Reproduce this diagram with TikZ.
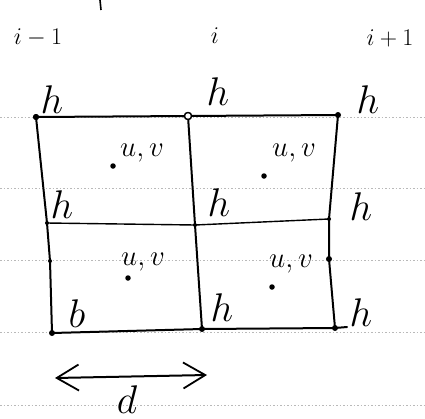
\RequirePackage{fix-cm}
\documentclass[tikz,border=0pt]{standalone}
\usetikzlibrary{arrows.meta}
\begin{document}
\begin{tikzpicture}[x=1pt,y=-1pt,
  ruled/.style={gray!55, line width=0.6pt, dash pattern=on 1.5pt off 2pt},
  gridline/.style={line width=2pt, line cap=round, line join=round},
  thinline/.style={line width=1.4pt, line cap=round, line join=round},
  dot/.style={circle, fill, inner sep=0pt, minimum size=6pt},
  odot/.style={circle, draw, fill=white, line width=1.3pt, inner sep=0pt, minimum size=7pt},
  sdot/.style={circle, fill, inner sep=0pt, minimum size=4pt},
  hlab/.style={font=\fontsize{40}{40}\selectfont, inner sep=0pt},
  uvlab/.style={font=\fontsize{29}{29}\selectfont, inner sep=0pt},
  ilab/.style={font=\fontsize{24}{24}\selectfont, inner sep=0pt}
]
\useasboundingbox (0,0) rectangle (425,418);
% notebook ruled lines
\foreach \yy in {117,188,260,332,405} \draw[ruled] (0,\yy) -- (425,\yy);
% grid points
\node[dot] (TL) at (36,117) {};
\node[odot] (TM) at (188,116) {};
\node[dot] (TR) at (338,115) {};
\node[sdot] (ML) at (47,223) {};
\node[sdot] (MM) at (195,225) {};
\node[sdot] (MR) at (329,219) {};
\node[sdot] (L2) at (50,261) {};
\node[dot] (R2) at (329,259) {};
\node[dot] (BL) at (52,333) {};
\node[dot] (BM) at (202,329) {};
\node[dot] (BR) at (335,328) {};
\coordinate (BE) at (347,327);
% grid lines
\draw[gridline] (TL.center) -- (TM.center) -- (TR.center);
\draw[gridline] (TL.center) -- (ML.center) -- (L2.center) -- (BL.center);
\draw[gridline] (TM.center) -- (MM.center) -- (BM.center);
\draw[gridline] (TR.center) -- (MR.center) -- (R2.center) -- (BR.center);
\draw[thinline] (ML.center) -- (MM.center) -- (MR.center);
\draw[gridline] (BL.center) -- (BM.center) -- (BR.center) -- (BE);
\node[dot] at (TL) {};
\node[odot] at (TM) {};
% top labels
\node[ilab] (im) at (38,38) {$i-1$};
\node[ilab] (ii) at (215,36) {$i$};
\node[ilab] (ip) at (390,38) {$i+1$};
\coordinate (mk1) at (100,0);
\coordinate (mk2) at (101,10);
\draw[line width=1.6pt] (mk1) -- (mk2);
% h labels
\node[hlab] (h1) at (52,100) {$h$};
\node[hlab] (h2) at (218,92) {$h$};
\node[hlab] (h3) at (368,100) {$h$};
\node[hlab] (h4) at (62,205) {$h$};
\node[hlab] (h5) at (219,203) {$h$};
\node[hlab] (h6) at (361,207) {$h$};
\node[hlab] (h7) at (77,314) {$b$};
\node[hlab] (h8) at (222,308) {$h$};
\node[hlab] (h9) at (361,313) {$h$};
% u,v labels
\node[uvlab] (uv1) at (142,153) {$u,v$};
\node[sdot, minimum size=5.5pt] at (113,166) {};
\node[uvlab] (uv2) at (294,153) {$u,v$};
\node[sdot, minimum size=5.5pt] at (264,176) {};
\node[uvlab] (uv3) at (143,262) {$u,v$};
\node[sdot, minimum size=5.5pt] at (128,278) {};
\node[uvlab] (uv4) at (291,264) {$u,v$};
\node[sdot, minimum size=5.5pt] at (272,287) {};
% d arrow
\coordinate (a1) at (55,378);
\coordinate (a2) at (207,375);
\draw[line width=2pt, {Straight Barb[length=22pt,width=26pt,line width=1.8pt]}-{Straight Barb[length=22pt,width=26pt,line width=1.8pt]}] (a1) -- (a2);
\node[hlab, anchor=south] (d) at (127,414) {$d$};
\end{tikzpicture}
\end{document}
